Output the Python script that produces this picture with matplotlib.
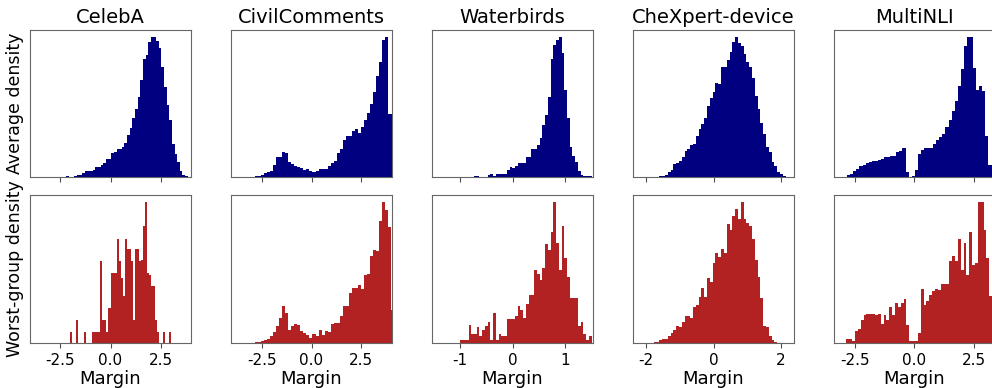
import numpy as np
import matplotlib.pyplot as plt

# dataset names and x-limits
datasets = ["CelebA", "CivilComments", "Waterbirds", "CheXpert-device", "MultiNLI"]
xlims = [(-4.0, 4.0), (-4.04, 4.04), (-1.53, 1.53), (-2.38, 2.38), (-3.37, 3.39)]
xticks = [[-2.5, 0.0, 2.5], [-2.5, 0.0, 2.5], [-1, 0, 1], [-2, 0, 2], [-2.5, 0.0, 2.5]]

# histogram bin ranges (lo, hi) per panel
avg_range = [(-2.45, 3.838), (-3.725, 4.127), (-0.992, 1.504), (-1.767, 2.383), (-3.333, 3.375)]
worst_range = [(-2.0, 3.0), (-3.725, 4.127), (-0.992, 1.504), (-1.767, 2.383), (-2.85, 3.39)]

# average density (relative heights, peak ~100)
celeba_avg = [0.3, 0.3, 1, 0.7, 0.7, 1.2, 2, 2, 3.5, 4.7, 4.7, 4.7, 5.2, 7.6, 7.1, 8.8,
              10, 12.8, 12.8, 17, 18.3, 20.4, 20.4, 21.9, 24.7, 30, 35, 41.8, 48.7, 57,
              68.9, 83.6, 86.7, 96.2, 99.8, 99.3, 97, 91.4, 78.4, 64, 51, 40.4, 23.8,
              16.6, 10.7, 4.7, 1.9, 1]
civil_avg = [0.3, 0.3, 0.3, 0.3, 0.3, 0.5, 1, 1.2, 1.9, 2.9, 3.6, 4.8, 9, 14.2, 14.7,
             18.3, 17.1, 11.2, 9.5, 7.8, 7.1, 6.4, 5.2, 5.7, 4.8, 4, 4.8, 5.7, 5.7, 5.7,
             7.8, 10, 11.4, 17.1, 20.2, 26.6, 29.7, 29.7, 32.8, 34.2, 31.8, 35.6, 40.9,
             45.6, 52.3, 60.6, 71.7, 82, 97.4, 99.8, 45.1, 45]
water_avg = [0.7, 0.7, 0.3, 0.3, 0.3, 1.2, 1.2, 0.7, 0.7, 0.7, 1.9, 2.4, 1.2, 2.4, 2.4,
             2.4, 2.4, 5.5, 7.1, 6.4, 8.3, 10.5, 10, 10, 14.7, 14.7, 20.2, 20.2, 23.3,
             27.8, 37.5, 44, 57, 83.6, 93.8, 97.4, 99.8, 88.4, 61.8, 42.3, 21.4, 15.4,
             10.7, 4.3, 1.9, 1, 1, 1]
chex_avg = [0.3, 0.7, 1.2, 1.2, 1.9, 3.6, 5.5, 9.5, 10, 11.9, 14.3, 19, 20.2, 23.3, 23.8,
            29.7, 34, 38, 42, 50.4, 56.5, 60.6, 67.2, 66.5, 78, 78, 83.1, 88.6, 96.2,
            99.8, 95.5, 93.1, 87.2, 81.5, 78, 70.1, 57.5, 48.7, 38.5, 30.9, 21.9, 17.8,
            10.7, 8.3, 3.6, 2.4, 1, 0.3, 0.3, 0.3]
mnli_avg = [0.3, 0.3, 0.3, 0.7, 1.9, 2.4, 4.8, 6.2, 8.1, 9, 10, 10.7, 11.6, 11.9, 12.4,
            12.8, 14.2, 14.2, 15, 15.4, 17.8, 19, 20.7, 4, 0.7, 1.2, 5.2, 16.6, 19.5,
            20.7, 21, 21, 23.5, 26.4, 29, 31, 35.6, 40.9, 46.8, 54.2, 65.1, 76.5, 93,
            99.8, 99.8, 77.2, 61.8, 64.6, 61.3, 29.7, 9, 5]

# worst-group density
celeba_worst = [7.8, 0, 0, 16.5, 0, 0, 0, 7.8, 0, 0, 0, 7.8, 7.8, 7.8, 7.8, 58, 16.5,
                16.5, 7.8, 25, 49.5, 49.5, 50, 74, 58, 46, 33.5, 74, 66.5, 66.5, 58,
                16.5, 66.5, 66.5, 58, 59, 83, 100, 49.5, 48, 40.5, 40.5, 16.5, 7.8, 0,
                0, 7.8, 0, 0, 7.8]
civil_worst = [0, 0, 0, 0, 0, 0, 0.7, 0.7, 1.2, 2.4, 3.1, 4.7, 7.8, 11.8, 17.7, 26.4,
               21.2, 9.4, 11.8, 13.4, 13, 8.3, 7.1, 5.9, 3.5, 6.6, 5.2, 9.4, 5.4, 8.3,
               7.8, 13.4, 14.2, 14.2, 19.3, 25.9, 26.4, 35.4, 38.9, 38.9, 41.3, 38.4,
               48.3, 49, 61.3, 66, 64.9, 86.1, 99.8, 94.3, 82, 23.6]
water_worst = [2.4, 2.4, 2.4, 13, 6.6, 6.6, 11, 4.7, 9, 11.8, 14.6, 2.4, 21.2, 2.4, 6.6,
               4.7, 4.7, 17.2, 17.2, 17.2, 18.9, 25.9, 23.6, 17.7, 27.8, 34, 34, 52, 49,
               45, 53, 70, 66, 79, 100, 71, 52, 83, 60, 47, 32, 32, 32, 12, 14.6, 6.6,
               2.4, 4.7]
chex_worst = [0.7, 0.7, 2.4, 3.1, 3.1, 5.2, 7.1, 9.4, 11.8, 11.1, 14.6, 19.3, 19.3, 17.7,
              25.5, 26.9, 32.3, 39.2, 32.3, 45.8, 43.4, 56.6, 63.7, 61.3, 67, 63.7, 84.4,
              80, 90, 95, 88, 100, 88, 85, 83, 74, 59, 47, 32, 12, 11, 5, 2.4, 0.9, 0,
              0, 0, 0, 0, 0]
mnli_worst = [3.1, 3.1, 1.7, 8.7, 10.1, 16.5, 19.6, 20.8, 20.8, 20.8, 19.6, 20.8, 13.7,
              19.6, 16.5, 25.2, 20.1, 28.3, 25.2, 28.3, 31.4, 12.5, 1.7, 1.7, 1.7, 7.1,
              38.4, 27.1, 30, 34, 37, 38.4, 37.3, 42, 42, 42, 58, 62, 58, 74, 52, 71, 48,
              79, 55, 57, 100, 100, 80, 60, 33, 20]

avg_heights = [celeba_avg, civil_avg, water_avg, chex_avg, mnli_avg]
worst_heights = [celeba_worst, civil_worst, water_worst, chex_worst, mnli_worst]

W, H = 992, 388
fig = plt.figure(figsize=(W / 100, H / 100), dpi=100)

lefts = [30, 231, 432, 633, 834]
aw, ah = 161, 148
tops = [29.5, 195]


def draw_hist(ax, rng, heights, color):
    n = len(heights)
    edges = np.linspace(rng[0], rng[1], n + 1)
    ax.hist(edges[:-1], bins=edges, weights=heights, color=color, histtype="stepfilled")


for j, name in enumerate(datasets):
    for r in range(2):
        ax = fig.add_axes([lefts[j] / W, 1 - (tops[r] + ah) / H, aw / W, ah / H])
        if r == 0:
            draw_hist(ax, avg_range[j], avg_heights[j], "#000080")
            ax.set_title(name, fontsize=14, pad=5)
            ax.set_xticklabels([])
        else:
            draw_hist(ax, worst_range[j], worst_heights[j], "#b22222")
            ax.set_xlabel("Margin", fontsize=13, labelpad=2)
        ax.set_xlim(*xlims[j])
        ax.set_xticks(xticks[j])
        if r == 1:
            ax.set_xticklabels([f"{t:.1f}" if j in (0, 1, 4) else f"{t:d}" for t in xticks[j]])
        ax.set_yticks([])
        ax.tick_params(axis="x", labelsize=11, color="0.3", length=3.5)
        for s in ax.spines.values():
            s.set_color("0.4")
        if j == 0:
            ax.set_ylabel("Average density" if r == 0 else "Worst-group density",
                          fontsize=12.5, labelpad=4)

fig.savefig("out.png", dpi=100)
